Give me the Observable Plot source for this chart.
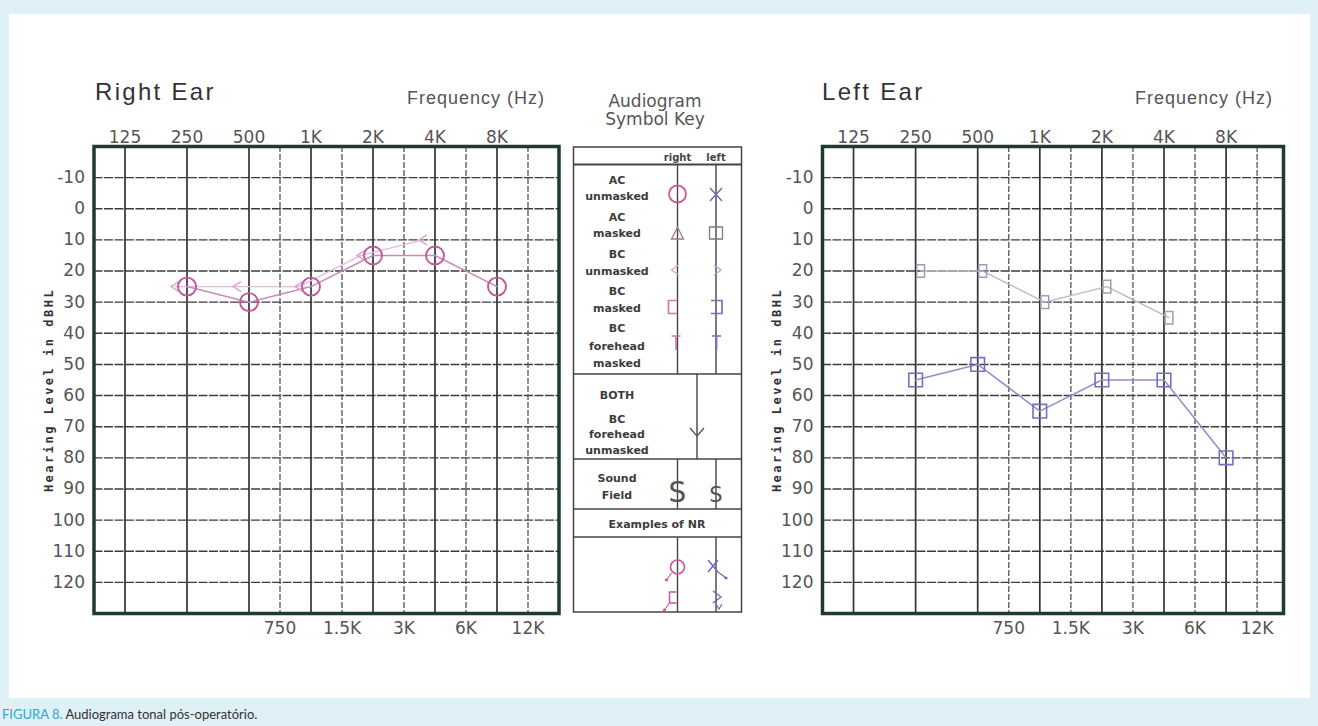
<!DOCTYPE html>
<html><head><meta charset="utf-8">
<script src="https://cdn.jsdelivr.net/npm/d3@7"></script>
<script src="https://cdn.jsdelivr.net/npm/@observablehq/plot@0.6"></script>
<style>
html,body{margin:0;padding:0;}
body{width:1318px;height:726px;background:#dff0f7;position:relative;overflow:hidden;font-family:"DejaVu Sans",sans-serif;}
#panel{position:absolute;left:9px;top:14px;width:1301px;height:684px;background:#fff;}
.abs{position:absolute;}
.abs svg{display:block;}
.ylab text{letter-spacing:2.5px;}
</style></head>
<body>
<div id="panel"></div>
<div id="rightEar" class="abs" style="left:0px;top:0px"></div>
<div id="leftEar" class="abs" style="left:730px;top:0px"></div>
<div id="overlay" class="abs" style="left:0px;top:0px"></div>
<script>
// ---------- data ----------
const freqHz = [125, 250, 500, 750, 1000, 1500, 2000, 3000, 4000, 6000, 8000, 12000];
const freqLabels = ["125", "250", "500", "750", "1K", "1.5K", "2K", "3K", "4K", "6K", "8K", "12K"];
const topAxisHz = [125, 250, 500, 1000, 2000, 4000, 8000];
const bottomAxisHz = [750, 1500, 3000, 6000, 12000];
const dbTicks = [-10, 0, 10, 20, 30, 40, 50, 60, 70, 80, 90, 100, 110, 120];

// Right ear: AC unmasked (circles) and BC unmasked (<)
const rightACFreq = [250, 500, 1000, 2000, 4000, 8000];
const rightACdB = [25, 30, 25, 15, 15, 25];
const rightBCFreq = [250, 500, 1000, 2000, 4000];
const rightBCdB = [25, 25, 25, 15, 10];

// Left ear: AC masked (squares) and BC masked (brackets)
const leftACFreq = [250, 500, 1000, 2000, 4000, 8000];
const leftACdB = [55, 50, 65, 55, 55, 80];
const leftBCFreq = [250, 500, 1000, 2000, 4000];
const leftBCdB = [20, 20, 30, 25, 35];

// ---------- helpers ----------
// audiogram column position in half-octave steps from 125 Hz (inter-octave frequencies sit midway)
function audPos(f) {
  const o = Math.log2(f / 125);
  return Math.abs(o - Math.round(o)) < 1e-9 ? 2 * o : 2 * Math.log2(f / 1.5 / 125) + 1;
}
const labelByPos = new Map(freqHz.map((f, i) => [audPos(f), freqLabels[i]]));
const fmtFreq = p => labelByPos.get(p) ?? "";
const rows = (fs, vs) => fs.map((f, i) => ({pos: audPos(f), db: vs[i]}));
const octaveHz = freqHz.filter(f => Number.isInteger(Math.log2(f / 125)));
const midHz = freqHz.filter(f => !Number.isInteger(Math.log2(f / 125)));

const rad = size => Math.sqrt(size / Math.PI);
const symLeftAngle = {draw(c, s) { const r = rad(s); c.moveTo(r * 0.8, -r); c.lineTo(-r * 0.8, 0); c.lineTo(r * 0.8, r); }};
const symSquare = {draw(c, s) { const r = rad(s); c.rect(-r, -r, 2 * r, 2 * r); }};
const symNarrow = {draw(c, s) { const r = rad(s); c.rect(-0.62 * r, -r, 1.24 * r, 2 * r); }};

function ear(opts) {
  return Plot.plot({
    width: opts.width, height: 660,
    marginLeft: opts.mL, marginRight: opts.mR, marginTop: 146, marginBottom: 47,
    x: {domain: [-1, opts.xMax], axis: null},
    y: {domain: [-20, 130], reverse: true, axis: null},
    style: {background: "transparent", color: "#555", fontFamily: "DejaVu Sans, sans-serif", overflow: "visible"},
    marks: [
      Plot.ruleY(dbTicks, {stroke: "#3c3c3c", strokeWidth: 1.4, strokeDasharray: "9,1.5"}),
      Plot.ruleX(octaveHz.map(audPos), {stroke: "#333", strokeWidth: 1.7}),
      Plot.ruleX(midHz.map(audPos), {stroke: "#555", strokeWidth: 1.3, strokeDasharray: "6,2"}),
      Plot.frame({stroke: "#1f3b2e", strokeWidth: 3.5}),
      Plot.axisX({anchor: "top", ticks: topAxisHz.map(audPos), tickFormat: fmtFreq, tickSize: 0, tickPadding: 4, label: null, fontSize: 17, fill: "#555"}),
      Plot.axisX({anchor: "bottom", ticks: bottomAxisHz.map(audPos), tickFormat: fmtFreq, tickSize: 0, tickPadding: 8, label: null, fontSize: 17, fill: "#555"}),
      Plot.axisY({ticks: dbTicks, tickFormat: d => String(d), tickSize: 0, tickPadding: 9, label: null, fontSize: 17, fill: "#555"}),
      Plot.text(["Hearing Level in dBHL"], {frameAnchor: "left", textAnchor: "middle", rotate: -90, dx: -45, dy: 10, fontFamily: "DejaVu Sans Mono", fontWeight: "bold", fontSize: 12, fill: "#333", className: "ylab"}),
      ...opts.marks
    ]
  });
}

// ---------- right ear ----------
const rAC = rows(rightACFreq, rightACdB);
const rBC = rows(rightBCFreq, rightBCdB);
document.getElementById("rightEar").append(ear({
  width: 575, mL: 93.5, mR: 16.5, xMax: 14,
  marks: [
    Plot.line(rBC, {x: "pos", y: "db", dx: -12, stroke: "#e4bcd9", strokeWidth: 1.4}),
    Plot.line(rAC, {x: "pos", y: "db", stroke: "#c98bbb", strokeWidth: 1.5}),
    Plot.dot(rBC, {x: "pos", y: "db", dx: -12, r: 5, symbol: symLeftAngle, fill: "none", stroke: "#dca6cc", strokeWidth: 1.5}),
    Plot.dot(rAC, {x: "pos", y: "db", r: 9, symbol: "circle", fill: "none", stroke: "#c0579c", strokeWidth: 1.9})
  ]
}));

// ---------- left ear ----------
const lAC = rows(leftACFreq, leftACdB);
const lBC = rows(leftBCFreq, leftBCdB);
document.getElementById("leftEar").append(ear({
  width: 588, mL: 92, mR: 35, xMax: 13.85,
  marks: [
    Plot.line(lBC, {x: "pos", y: "db", dx: 5, stroke: "#b9b9c7", strokeWidth: 1.4}),
    Plot.line(lAC, {x: "pos", y: "db", stroke: "#8d90cc", strokeWidth: 1.5}),
    Plot.dot(lBC, {x: "pos", y: "db", dx: 5, r: 6.3, symbol: symNarrow, fill: "none", stroke: "#9d9db6", strokeWidth: 1.5}),
    Plot.dot(lAC, {x: "pos", y: "db", r: 6.8, symbol: symSquare, fill: "none", stroke: "#6f73c2", strokeWidth: 1.6})
  ]
}));

// ---------- titles, symbol key, caption ----------
const svg = d3.select("#overlay").append("svg").attr("width", 1318).attr("height", 726)
  .style("font-family", "DejaVu Sans, sans-serif");

function txt(x, y, s, o = {}) {
  return svg.append("text").attr("x", x).attr("y", y).text(s)
    .attr("font-size", o.size ?? 12).attr("fill", o.fill ?? "#3a3a3a")
    .attr("text-anchor", o.anchor ?? "start").attr("font-weight", o.weight ?? "normal")
    .attr("letter-spacing", o.ls ?? 0).attr("font-family", o.family ?? null);
}
const arial = "Liberation Sans, Arial, sans-serif";
txt(95, 100, "Right Ear", {size: 24, fill: "#333", ls: 2.3, family: arial});
txt(545, 104, "Frequency (Hz)", {size: 18, fill: "#555", anchor: "end", ls: 1, family: arial});
txt(822, 100, "Left Ear", {size: 24, fill: "#333", ls: 2.3, family: arial});
txt(1273, 104, "Frequency (Hz)", {size: 18, fill: "#555", anchor: "end", ls: 1, family: arial});
txt(655, 107, "Audiogram", {size: 17, fill: "#555", anchor: "middle"});
txt(655, 125, "Symbol Key", {size: 17, fill: "#555", anchor: "middle"});

// key frame
const ln = (x1, y1, x2, y2, c = "#444", w = 1.4) => svg.append("line").attr("x1", x1).attr("y1", y1).attr("x2", x2).attr("y2", y2).attr("stroke", c).attr("stroke-width", w);
const path = (d, c, w = 1.5) => svg.append("path").attr("d", d).attr("fill", "none").attr("stroke", c).attr("stroke-width", w);
svg.append("rect").attr("x", 573.5).attr("y", 147).attr("width", 168).attr("height", 465).attr("fill", "#fff").attr("stroke", "#444").attr("stroke-width", 1.5);
const cR = 677.5, cL = 716;
ln(573.5, 164.5, 741.5, 164.5, "#444", 2);
ln(cR, 164.5, cR, 374); ln(cL, 164.5, cL, 374);
ln(573.5, 374, 741.5, 374);
ln(697, 374, 697, 459);
ln(573.5, 459, 741.5, 459);
ln(cR, 459, cR, 509); ln(cL, 459, cL, 509);
ln(573.5, 509, 741.5, 509);
ln(573.5, 537, 741.5, 537);
ln(cR, 537, cR, 612); ln(cL, 537, cL, 612);

txt(cR, 161, "right", {size: 10, anchor: "middle", weight: "bold", fill: "#444"});
txt(cL, 161, "left", {size: 10, anchor: "middle", weight: "bold", fill: "#444"});

const lab = {size: 11, anchor: "middle", weight: "bold", fill: "#3c3c3c"};
const keyLabels = [
  [["AC", "unmasked"], [184, 200]],
  [["AC", "masked"], [221, 237]],
  [["BC", "unmasked"], [258, 275]],
  [["BC", "masked"], [295, 312]],
  [["BC", "forehead", "masked"], [332, 350, 367]],
  [["BOTH"], [399]],
  [["BC", "forehead", "unmasked"], [423, 438, 454]],
  [["Sound", "Field"], [482, 499]]
];
keyLabels.forEach(([ls, ys]) => ls.forEach((s, i) => txt(617, ys[i], s, lab)));
txt(657, 528, "Examples of NR", lab);

const pink = "#c95a9f", blue = "#6c6cc0";
svg.append("circle").attr("cx", cR).attr("cy", 194).attr("r", 8.5).attr("fill", "none").attr("stroke", pink).attr("stroke-width", 1.8);
path(`M${cL-6},188 L${cL+6},201 M${cL+6},188 L${cL-6},201`, blue, 1.5);
path(`M${cR-6},239 L${cR},227.5 L${cR+6},239 Z`, "#a07888", 1.3);
path(`M${cL-6.5},227 h13 v12 h-13 Z`, "#7e7e7e", 1.3);
path(`M${cR+1},265 L${cR-6},270 L${cR+1},275`, "#e0a8cc", 1.4);
path(`M${cL-2},265 L${cL+5},270 L${cL-2},275`, "#a8a8dd", 1.4);
path(`M${cR-1},300.5 H${cR-9} V313.5 H${cR-1}`, "#d07aa8", 1.7);
path(`M${cL-5},300.5 H${cL+6} V313.5 H${cL-5}`, "#7070c8", 1.7);
path(`M${cR-6},336 H${cR+3} M${cR-1.5},336 V350`, "#d07aa8", 1.7);
path(`M${cL-4},336 H${cL+5} M${cL+0.5},336 V350`, "#7070c8", 1.7);
path(`M690,428 L697,436 L704,428`, "#555", 1.4);
txt(cR, 502, "S", {size: 28, anchor: "middle", fill: "#555"});
txt(cL, 502, "S", {size: 21, anchor: "middle", fill: "#555"});
// NR examples
svg.append("circle").attr("cx", cR).attr("cy", 567).attr("r", 7).attr("fill", "none").attr("stroke", pink).attr("stroke-width", 1.7);
path(`M${cR-6},573 L${cR-11},580`, pink, 1.2);
svg.append("circle").attr("cx", cR-11).attr("cy", 580).attr("r", 1.6).attr("fill", pink);
path(`M${cR-1},592 H${cR-8} V603 H${cR-1}`, pink, 1.5);
path(`M${cR-8},603 L${cR-13},610`, pink, 1.2);
svg.append("circle").attr("cx", cR-13).attr("cy", 610).attr("r", 1.6).attr("fill", pink);
path(`M${cL-8},560 L${cL+2},572 M${cL+2},560 L${cL-8},572`, blue, 1.5);
path(`M${cL+2},572 L${cL+10},578`, blue, 1.2);
svg.append("circle").attr("cx", cL+10).attr("cy", 578).attr("r", 1.6).attr("fill", blue);
path(`M${cL-3},591 L${cL+5},597 L${cL-3},603`, blue, 1.4);
path(`M${cL},604 L${cL+3},609 L${cL+6},604`, blue, 1.2);

// caption
const cap = svg.append("text").attr("x", 2).attr("y", 719).attr("font-family", "Lato, sans-serif").attr("font-size", 13);
cap.append("tspan").attr("fill", "#2aa7d8").text("FIGURA 8.");
cap.append("tspan").attr("fill", "#333").text(" Audiograma tonal pós-operatório.");
</script>
</body></html>
